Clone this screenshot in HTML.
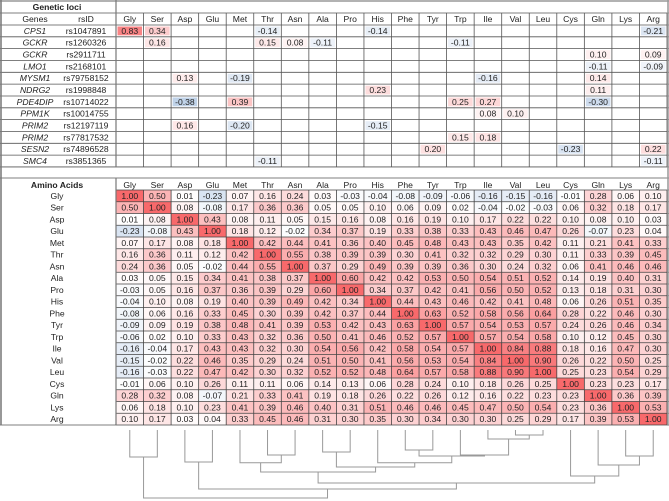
<!DOCTYPE html>
<html><head><meta charset="utf-8">
<style>
html,body{margin:0;padding:0;background:#fff;}
svg{display:block;font-family:"Liberation Sans",sans-serif;}
</style></head>
<body>
<svg id="chart" width="669" height="501" viewBox="0 0 669 501" xmlns="http://www.w3.org/2000/svg"></svg>
<script>
const aminoAcids = ["Gly","Ser","Asp","Glu","Met","Thr","Asn","Ala","Pro","His","Phe","Tyr","Trp","Ile","Val","Leu","Cys","Gln","Lys","Arg"];
const geneNames = ["CPS1","GCKR","GCKR","LMO1","MYSM1","NDRG2","PDE4DIP","PPM1K","PRIM2","PRIM2","SESN2","SMC4"];
const rsIds = ["rs1047891","rs1260326","rs2911711","rs2168101","rs79758152","rs1998848","rs10714022","rs10014755","rs12197119","rs77817532","rs74896528","rs3851365"];
// sparse loci associations: [row, aminoAcidIndex, value]
const lociValues = [
 [0,0,0.83],[0,1,0.34],[0,5,-0.14],[0,9,-0.14],[0,19,-0.21],
 [1,1,0.16],[1,5,0.15],[1,6,0.08],[1,7,-0.11],[1,12,-0.11],
 [2,17,0.10],[2,19,0.09],
 [3,17,-0.11],[3,19,-0.09],
 [4,2,0.13],[4,4,-0.19],[4,13,-0.16],[4,17,0.14],
 [5,9,0.23],[5,17,0.11],
 [6,2,-0.38],[6,4,0.39],[6,12,0.25],[6,13,0.27],[6,17,-0.30],
 [7,13,0.08],[7,14,0.10],
 [8,2,0.16],[8,4,-0.20],[8,9,-0.15],
 [9,12,0.15],[9,13,0.18],
 [10,11,0.20],[10,16,-0.23],[10,19,0.22],
 [11,5,-0.11],[11,19,-0.11]
];
const corrGly=[1.00,0.50,0.01,-0.23,0.07,0.16,0.24,0.03,-0.03,-0.04,-0.08,-0.09,-0.06,-0.16,-0.15,-0.16,-0.01,0.28,0.06,0.10];
const corrSer=[0.50,1.00,0.08,-0.08,0.17,0.36,0.36,0.05,0.05,0.10,0.06,0.09,0.02,-0.04,-0.02,-0.03,0.06,0.32,0.18,0.17];
const corrAsp=[0.01,0.08,1.00,0.43,0.08,0.11,0.05,0.15,0.16,0.08,0.16,0.19,0.10,0.17,0.22,0.22,0.10,0.08,0.10,0.03];
const corrGlu=[-0.23,-0.08,0.43,1.00,0.18,0.12,-0.02,0.34,0.37,0.19,0.33,0.38,0.33,0.43,0.46,0.47,0.26,-0.07,0.23,0.04];
const corrMet=[0.07,0.17,0.08,0.18,1.00,0.42,0.44,0.41,0.36,0.40,0.45,0.48,0.43,0.43,0.35,0.42,0.11,0.21,0.41,0.33];
const corrThr=[0.16,0.36,0.11,0.12,0.42,1.00,0.55,0.38,0.39,0.39,0.30,0.41,0.32,0.32,0.29,0.30,0.11,0.33,0.39,0.45];
const corrAsn=[0.24,0.36,0.05,-0.02,0.44,0.55,1.00,0.37,0.29,0.49,0.39,0.39,0.36,0.30,0.24,0.32,0.06,0.41,0.46,0.46];
const corrAla=[0.03,0.05,0.15,0.34,0.41,0.38,0.37,1.00,0.60,0.42,0.42,0.53,0.50,0.54,0.51,0.52,0.14,0.19,0.40,0.31];
const corrPro=[-0.03,0.05,0.16,0.37,0.36,0.39,0.29,0.60,1.00,0.34,0.37,0.42,0.41,0.56,0.50,0.52,0.13,0.18,0.31,0.30];
const corrHis=[-0.04,0.10,0.08,0.19,0.40,0.39,0.49,0.42,0.34,1.00,0.44,0.43,0.46,0.42,0.41,0.48,0.06,0.26,0.51,0.35];
const corrPhe=[-0.08,0.06,0.16,0.33,0.45,0.30,0.39,0.42,0.37,0.44,1.00,0.63,0.52,0.58,0.56,0.64,0.28,0.22,0.46,0.30];
const corrTyr=[-0.09,0.09,0.19,0.38,0.48,0.41,0.39,0.53,0.42,0.43,0.63,1.00,0.57,0.54,0.53,0.57,0.24,0.26,0.46,0.34];
const corrTrp=[-0.06,0.02,0.10,0.33,0.43,0.32,0.36,0.50,0.41,0.46,0.52,0.57,1.00,0.57,0.54,0.58,0.10,0.12,0.45,0.30];
const corrIle=[-0.16,-0.04,0.17,0.43,0.43,0.32,0.30,0.54,0.56,0.42,0.58,0.54,0.57,1.00,0.84,0.88,0.18,0.16,0.47,0.30];
const corrVal=[-0.15,-0.02,0.22,0.46,0.35,0.29,0.24,0.51,0.50,0.41,0.56,0.53,0.54,0.84,1.00,0.90,0.26,0.22,0.50,0.25];
const corrLeu=[-0.16,-0.03,0.22,0.47,0.42,0.30,0.32,0.52,0.52,0.48,0.64,0.57,0.58,0.88,0.90,1.00,0.25,0.23,0.54,0.29];
const corrCys=[-0.01,0.06,0.10,0.26,0.11,0.11,0.06,0.14,0.13,0.06,0.28,0.24,0.10,0.18,0.26,0.25,1.00,0.23,0.23,0.17];
const corrGln=[0.28,0.32,0.08,-0.07,0.21,0.33,0.41,0.19,0.18,0.26,0.22,0.26,0.12,0.16,0.22,0.23,0.23,1.00,0.36,0.39];
const corrLys=[0.06,0.18,0.10,0.23,0.41,0.39,0.46,0.40,0.31,0.51,0.46,0.46,0.45,0.47,0.50,0.54,0.23,0.36,1.00,0.53];
const corrArg=[0.10,0.17,0.03,0.04,0.33,0.45,0.46,0.31,0.30,0.35,0.30,0.34,0.30,0.30,0.25,0.29,0.17,0.39,0.53,1.00];
// dendrogram merges: [childA, childB, height]; leaves 0-19, new nodes from 20
const mergeA=[0,2,5,4,7,10,14,13,12,25,9,24,23,18,17,16,32,21,20];
const mergeB=[1,3,6,22,8,11,15,26,27,28,29,30,31,19,33,34,35,36,37];
const mergeH=[27,32,25,32.7,22,20,5,9,25,26,32.7,37,42,26,35,46,53,59,68];

const corr=[corrGly,corrSer,corrAsp,corrGlu,corrMet,corrThr,corrAsn,corrAla,corrPro,corrHis,corrPhe,corrTyr,corrTrp,corrIle,corrVal,corrLeu,corrCys,corrGln,corrLys,corrArg];
const svg=document.getElementById('chart');
const NS='http://www.w3.org/2000/svg';
const X0=116, CW=27.55, W=669;
const xCol=i=>X0+i*CW;
const LR0=25, LRH=11.83, AR0=190, ARH=11.75, DEND0=430;
const yLoci=i=>LR0+i*LRH;
const yAmino=i=>AR0+i*ARH;
const yDend=h=>DEND0+h;
function color(v){
  if(v>=0){const t=Math.min(v,1);return `rgb(${Math.round(255-7*t)},${Math.round(255-150*t)},${Math.round(255-148*t)})`;}
  const t=Math.min(-v,1);return `rgb(${Math.round(255-165*t)},${Math.round(255-117*t)},${Math.round(255-57*t)})`;
}
function el(tag,attrs,parent){const e=document.createElementNS(NS,tag);for(const k in attrs)e.setAttribute(k,attrs[k]);(parent||svg).appendChild(e);return e;}
function txt(x,y,s,opts,parent){const t=el('text',Object.assign({x:x,y:y,'text-anchor':'middle','font-size':'8.6','fill':'#222'},opts||{}),parent);t.textContent=s;return t;}
const fmt=v=>v.toFixed(2);

// ---- Loci section ----
const gL=el('g',{});


let t=txt(57,10,'Genetic loci',{'font-weight':'bold'},gL);


t=txt(35,22,'Genes',{},gL);


t=txt(86,22,'rsID',{},gL);


aminoAcids.forEach((a,i)=>{
  const h=txt(xCol(i)+CW/2,22,a,{},gL);
  
  
});
geneNames.forEach((g,i)=>{
  const y=yLoci(i)+LRH/2+3;
  const a=txt(35,y,g,{'font-style':'italic'},gL);
  
  
  const b=txt(86,y,rsIds[i],{},gL);
  
  
});
lociValues.forEach(([r,c,v])=>{
  const rc=el('rect',{x:xCol(c)+1.5,y:yLoci(r)+1.5,width:CW-3,height:LRH-3,fill:color(v)},gL);
  
  
  const tv=txt(xCol(c)+CW/2,yLoci(r)+LRH/2+3,fmt(v),{},gL);
  
  
});
// grid lines loci
for(let i=0;i<=geneNames.length;i++){el('line',{x1:0,x2:W,y1:yLoci(i),y2:yLoci(i),stroke:'#555','stroke-width':0.8},gL);}
el('line',{x1:0,x2:W,y1:13,y2:13,stroke:'#555','stroke-width':0.8},gL);
el('line',{x1:0,x2:W,y1:1,y2:1,stroke:'#999','stroke-width':1.5},gL);
for(let i=1;i<=aminoAcids.length;i++){el('line',{x1:xCol(i),x2:xCol(i),y1:13,y2:yLoci(12),stroke:'#555','stroke-width':0.8},gL);}
el('line',{x1:X0,x2:X0,y1:0,y2:yLoci(12),stroke:'#777','stroke-width':1.2},gL);

// ---- Amino section ----
const gA=el('g',{});


el('line',{x1:0,x2:W,y1:178,y2:178,stroke:'#555','stroke-width':0.8},gA);
t=txt(57,188,'Amino Acids',{'font-weight':'bold'},gA);


aminoAcids.forEach((a,i)=>{
  const h=txt(xCol(i)+CW/2,188,a,{},gA);
  
  
  const r=txt(57,yAmino(i)+ARH/2+3,a,{},gA);
  
  
});
corr.forEach((row,i)=>{
  row.forEach((v,j)=>{
    const rc=el('rect',{x:xCol(j),y:yAmino(i),width:CW,height:ARH,fill:color(v)},gA);
    
    
    const tv=txt(xCol(j)+CW/2,yAmino(i)+ARH/2+3,fmt(v),{},gA);
    
    
  });
});
for(let i=0;i<=20;i++){
  el('line',{x1:X0,x2:W,y1:yAmino(i),y2:yAmino(i),stroke:'#444','stroke-width':0.8},gA);
  el('line',{x1:xCol(i),x2:xCol(i),y1:yAmino(0),y2:yAmino(20),stroke:'#444','stroke-width':0.8},gA);
}
el('line',{x1:X0,x2:X0,y1:178,y2:yAmino(20),stroke:'#777','stroke-width':1.2},gA);
el('line',{x1:0,x2:X0,y1:yAmino(20),y2:yAmino(20),stroke:'#555','stroke-width':0.8},gA);
el('line',{x1:1,x2:1,y1:0,y2:yAmino(20),stroke:'#777','stroke-width':1.5});
el('line',{x1:W-1,x2:W-1,y1:0,y2:yAmino(20),stroke:'#999','stroke-width':1.5});

// ---- Dendrogram ----
const gD=el('g',{fill:'none',stroke:'#999','stroke-width':1});


const nodeX=[],nodeH=[];
aminoAcids.forEach((a,i)=>{nodeX[i]=xCol(i)+CW/2;nodeH[i]=0;});
mergeA.forEach((a,k)=>{
  const b=mergeB[k],h=mergeH[k],id=20+k;
  const p=el('path',{d:`M${nodeX[a]},${yDend(nodeH[a])}V${yDend(h)}H${nodeX[b]}V${yDend(nodeH[b])}`},gD);
  
  
  nodeX[id]=(nodeX[a]+nodeX[b])/2;nodeH[id]=h;
});
</script>
</body></html>
